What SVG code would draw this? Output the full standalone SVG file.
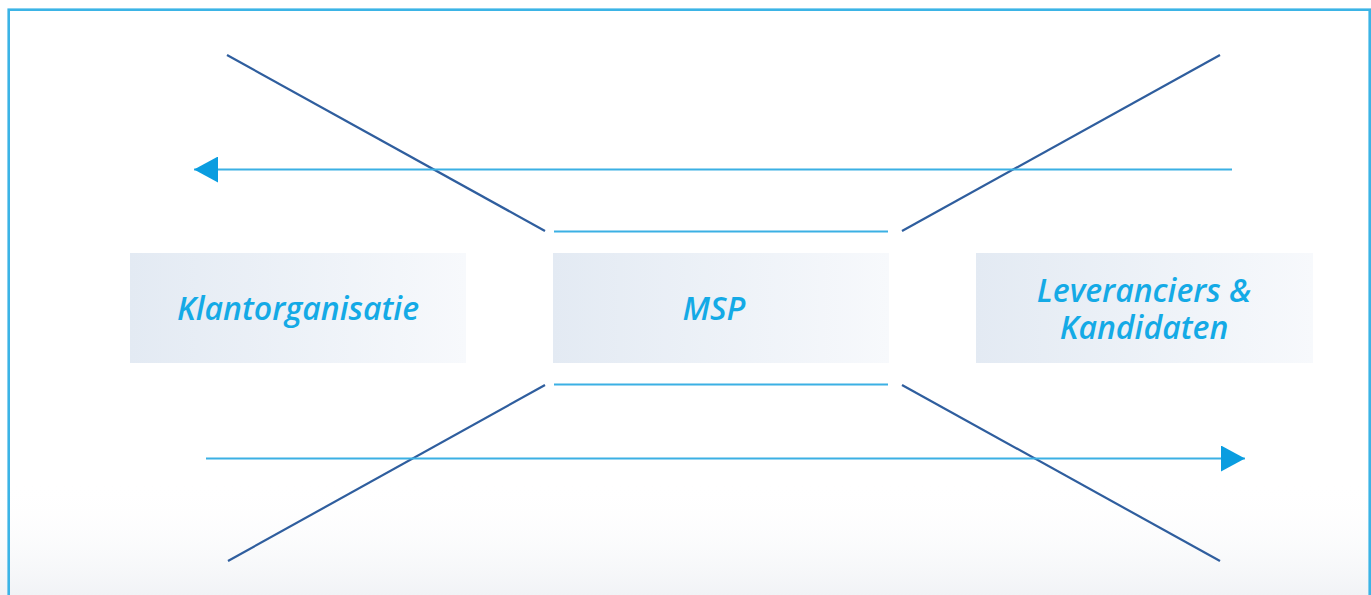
<svg xmlns="http://www.w3.org/2000/svg" width="1371" height="595" viewBox="0 0 1371 595">
  <defs>
    <linearGradient id="boxFill" x1="0" y1="0" x2="1" y2="0">
      <stop offset="0" stop-color="#e3eaf3"/>
      <stop offset="1" stop-color="#f7f9fc"/>
    </linearGradient>
    <linearGradient id="floorHaze" x1="0" y1="0" x2="0" y2="1">
      <stop offset="0" stop-color="#ffffff" stop-opacity="0"/>
      <stop offset="1" stop-color="#f1f3f6"/>
    </linearGradient>
    <marker id="arrowHead" viewBox="0 0 24 26" refX="24" refY="13" markerWidth="24" markerHeight="26" markerUnits="userSpaceOnUse" orient="auto">
      <path d="M0,0 L24,13 L0,26 Z" fill="#0a9de0"/>
    </marker>
    <style>
      .frame { fill: none; stroke: #3bb4e6; stroke-width: 2.6; }
      .box { fill: url(#boxFill); }
      .label { font-family: "Open Sans", "Noto Sans", sans-serif; font-style: italic; font-weight: 600; font-size: 32px; fill: #14aae6; text-anchor: middle; }
      .diag { stroke: #2f5e9e; stroke-width: 2.2; fill: none; }
      .bar { stroke: #3bb0e4; stroke-width: 2.2; fill: none; }
      .flow { stroke: #3bb0e4; stroke-width: 2.2; fill: none; }
    </style>
  </defs>

  <rect x="0" y="0" width="1371" height="595" fill="#ffffff"/>
  <rect x="0" y="480" width="1371" height="115" fill="url(#floorHaze)"/>
  <rect class="frame" x="8.7" y="9.7" width="1361" height="620"/>

  <g id="connectors">
    <line class="diag" x1="227" y1="55" x2="545" y2="231"/>
    <line class="diag" x1="1220" y1="55" x2="902" y2="231"/>
    <line class="diag" x1="545" y1="385" x2="228" y2="561"/>
    <line class="diag" x1="902" y1="385" x2="1220" y2="561"/>
    <line class="bar" x1="554" y1="231.5" x2="888" y2="231.5"/>
    <line class="bar" x1="554" y1="384.5" x2="888" y2="384.5"/>
    <line class="flow" x1="1232" y1="169.5" x2="194" y2="169.5" marker-end="url(#arrowHead)"/>
    <line class="flow" x1="206" y1="458.5" x2="1245" y2="458.5" marker-end="url(#arrowHead)"/>
  </g>

  <g id="node-klant">
    <rect class="box" x="130" y="253" width="336" height="110"/>
    <text class="label" x="298" y="320">Klantorganisatie</text>
  </g>

  <g id="node-msp">
    <rect class="box" x="553" y="253" width="336" height="110"/>
    <text class="label" x="714" y="320">MSP</text>
  </g>

  <g id="node-leveranciers">
    <rect class="box" x="976" y="253" width="337" height="110"/>
    <text class="label" x="1144" y="302">Leveranciers &amp;</text>
    <text class="label" x="1144" y="339">Kandidaten</text>
  </g>
</svg>
